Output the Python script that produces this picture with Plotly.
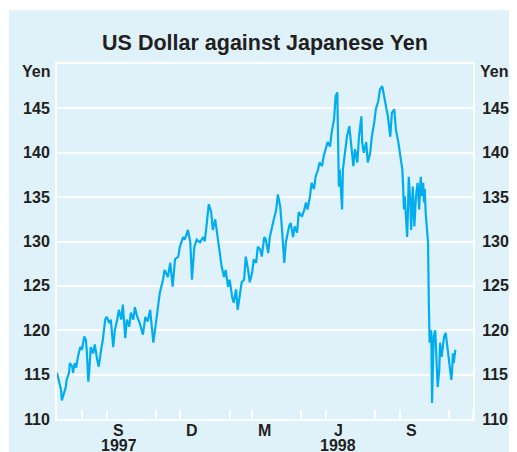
import plotly.graph_objects as go

# daily-ish readings of USD/JPY
dates = [
    "1997-07-01", "1997-07-03", "1997-07-06", "1997-07-07", "1997-07-10", "1997-07-12",
    "1997-07-13", "1997-07-16", "1997-07-17", "1997-07-20", "1997-07-21", "1997-07-23",
    "1997-07-25", "1997-07-27", "1997-07-30", "1997-08-01", "1997-08-04", "1997-08-06",
    "1997-08-07", "1997-08-09", "1997-08-10", "1997-08-12", "1997-08-15", "1997-08-17",
    "1997-08-20", "1997-08-22", "1997-08-25", "1997-08-27", "1997-08-30", "1997-09-01",
    "1997-09-04", "1997-09-06", "1997-09-09", "1997-09-11", "1997-09-14", "1997-09-16",
    "1997-09-19", "1997-09-21", "1997-09-24", "1997-09-26", "1997-09-29", "1997-10-01",
    "1997-10-04", "1997-10-06", "1997-10-09", "1997-10-12", "1997-10-16", "1997-10-19",
    "1997-10-22", "1997-10-25", "1997-10-29", "1997-10-31", "1997-11-03", "1997-11-06",
    "1997-11-10", "1997-11-12", "1997-11-16", "1997-11-19", "1997-11-22", "1997-11-25",
    "1997-11-29", "1997-12-01", "1997-12-05", "1997-12-07", "1997-12-11", "1997-12-14",
    "1997-12-16", "1997-12-19", "1997-12-22", "1997-12-26", "1997-12-30", "1998-01-01",
    "1998-01-04", "1998-01-06", "1998-01-09", "1998-01-11", "1998-01-14", "1998-01-17",
    "1998-01-20", "1998-01-22", "1998-01-25", "1998-01-27", "1998-01-30", "1998-02-01",
    "1998-02-04", "1998-02-06", "1998-02-09", "1998-02-11", "1998-02-14", "1998-02-16",
    "1998-02-19", "1998-02-21", "1998-02-24", "1998-02-26", "1998-03-01", "1998-03-03",
    "1998-03-06", "1998-03-08", "1998-03-11", "1998-03-13", "1998-03-16", "1998-03-18",
    "1998-03-21", "1998-03-23", "1998-03-27", "1998-03-31", "1998-04-02", "1998-04-05",
    "1998-04-07", "1998-04-10", "1998-04-12", "1998-04-16", "1998-04-18", "1998-04-21",
    "1998-04-23", "1998-04-26", "1998-04-28", "1998-05-02", "1998-05-05", "1998-05-07",
    "1998-05-09", "1998-05-12", "1998-05-14", "1998-05-17", "1998-05-19", "1998-05-22",
    "1998-05-24", "1998-05-27", "1998-05-29", "1998-06-01", "1998-06-03", "1998-06-06",
    "1998-06-08", "1998-06-11", "1998-06-13", "1998-06-15", "1998-06-16", "1998-06-17",
    "1998-06-18", "1998-06-21", "1998-06-22", "1998-06-25", "1998-06-27", "1998-06-30",
    "1998-07-02", "1998-07-05", "1998-07-07", "1998-07-10", "1998-07-12", "1998-07-15",
    "1998-07-16", "1998-07-18", "1998-07-21", "1998-07-23", "1998-07-26", "1998-07-28",
    "1998-07-31", "1998-08-02", "1998-08-05", "1998-08-07", "1998-08-10", "1998-08-12",
    "1998-08-15", "1998-08-17", "1998-08-20", "1998-08-22", "1998-08-25", "1998-08-27",
    "1998-08-30", "1998-09-01", "1998-09-04", "1998-09-05", "1998-09-06", "1998-09-07",
    "1998-09-09", "1998-09-10", "1998-09-11", "1998-09-12", "1998-09-14", "1998-09-15",
    "1998-09-16", "1998-09-17", "1998-09-19", "1998-09-20", "1998-09-21", "1998-09-23",
    "1998-09-25", "1998-09-26", "1998-09-27", "1998-09-28", "1998-09-30", "1998-10-01",
    "1998-10-02", "1998-10-03", "1998-10-05", "1998-10-06", "1998-10-07", "1998-10-08",
    "1998-10-10", "1998-10-11", "1998-10-12", "1998-10-13", "1998-10-15", "1998-10-16",
    "1998-10-17", "1998-10-18", "1998-10-20", "1998-10-21", "1998-10-23", "1998-10-26",
    "1998-10-28", "1998-10-30", "1998-10-31", "1998-11-02", "1998-11-04", "1998-11-05",
    "1998-11-06", "1998-11-07", "1998-11-09",
]
yen = [
    115.2, 114.4, 113.3, 112.1, 112.9, 113.6,
    114.4, 115.2, 116.3, 115.9, 115.2, 116.3,
    115.8, 117.0, 118.1, 117.8, 119.3, 118.9,
    117.8, 114.2, 115.2, 118.1, 117.4, 118.4,
    116.7, 115.9, 117.8, 118.9, 121.2, 121.5,
    120.8, 121.2, 118.1, 120.0, 121.2, 122.3,
    121.2, 122.9, 119.1, 121.2, 120.4, 122.0,
    121.2, 122.6, 121.5, 120.8, 119.5, 121.5,
    121.0, 122.3, 118.6, 120.0, 122.0, 124.2,
    125.7, 126.8, 126.0, 127.6, 124.9, 128.0,
    128.3, 129.4, 130.5, 130.2, 131.3, 129.9,
    125.7, 129.4, 130.2, 129.9, 130.5, 130.0,
    132.5, 134.2, 133.3, 131.3, 132.5, 130.5,
    128.3, 127.2, 126.0, 126.8, 124.9, 125.7,
    123.8, 123.1, 124.6, 122.3, 124.2, 125.4,
    125.7, 128.3, 126.8, 125.4, 126.5, 128.0,
    127.6, 129.4, 129.1, 128.3, 130.5, 130.2,
    128.7, 130.5, 132.1, 133.6, 135.3, 133.9,
    131.6, 127.6, 129.9, 131.7, 132.1, 130.5,
    131.7, 131.0, 133.3, 132.8, 133.6, 134.4,
    133.6, 135.1, 136.6, 135.9, 137.3, 138.1,
    138.9, 138.5, 139.6, 140.4, 141.2, 140.7,
    142.3, 143.8, 146.4, 146.8, 141.8, 136.2,
    138.1, 133.6, 138.1, 140.0, 141.8, 143.0,
    141.2, 138.5, 140.4, 138.9, 141.8, 144.1,
    141.2, 140.0, 141.2, 138.9, 140.0, 141.8,
    143.4, 144.9, 145.8, 147.1, 147.5, 146.4,
    144.9, 144.1, 141.8, 144.5, 144.9, 142.6,
    141.2, 140.0, 138.1, 136.2, 133.6, 135.1,
    132.5, 130.5, 133.3, 137.3, 134.4, 131.3,
    133.6, 136.2, 131.7, 133.6, 135.1, 136.6,
    133.6, 135.9, 137.3, 135.1, 136.6, 134.4,
    135.9, 133.3, 130.2, 129.9, 123.1, 118.6,
    120.0, 111.8, 115.5, 119.3, 120.0, 117.4,
    115.5, 113.6, 115.5, 118.6, 117.0, 119.3,
    119.7, 118.1, 117.0, 115.9, 114.4, 115.5,
    117.4, 116.3, 117.8,
]

y_ticks = [110, 115, 120, 125, 130, 135, 140, 145]
x_label_dates = ["1997-09-16", "1997-12-16", "1998-03-16", "1998-06-16", "1998-09-16"]
x_label_text = ["S", "D", "M", "J", "S"]
year_dates = ["1997-09-16", "1998-06-16"]
year_text = ["1997", "1998"]

BG = "#dff2fa"
INK = "#231f20"
tickfont = dict(family="Liberation Sans, Arial", size=16, color=INK, weight="bold")

# page body adds an 8px offset, so the figure is drawn 8px smaller than the window
W, H = 509, 444
L, R, T, B = 49, 44, 56, 33
pw, ph = W - L - R, H - T - B

fig = go.Figure()
fig.add_trace(go.Scatter(x=dates, y=yen, mode="lines",
                         line=dict(color="#00aeef", width=2.2), showlegend=False))
# invisible copy so the right-hand axis gets drawn
fig.add_trace(go.Scatter(x=dates, y=yen, mode="lines", yaxis="y2",
                         line=dict(width=0), opacity=0, hoverinfo="skip",
                         showlegend=False))

fig.update_layout(
    width=W, height=H,
    margin=dict(l=L, r=R, t=T, b=B),
    paper_bgcolor="white", plot_bgcolor=BG,
    title=dict(text="US Dollar against Japanese Yen", x=0.5, xref="paper",
               y=1 - 34 / H, yanchor="middle",
               font=dict(family="Liberation Sans, Arial", size=21.5, color=INK,
                         weight="bold")),
    xaxis=dict(type="date", range=["1997-07-01", "1998-12-01"], automargin=False,
               showticklabels=False, ticks="", showgrid=False, zeroline=False,
               showline=True, linecolor="white", linewidth=2, mirror=True,
               minor=dict(ticks="inside", dtick="M1", tick0="1997-08-01",
                          ticklen=9, tickwidth=2, tickcolor="white", showgrid=False)),
    yaxis=dict(range=[110, 150], tickvals=y_ticks, tickfont=tickfont, automargin=False,
               gridcolor="white", gridwidth=2, zeroline=False, ticklabelstandoff=2,
               showline=True, linecolor="white", linewidth=2, ticks=""),
    yaxis2=dict(range=[110, 150], tickvals=y_ticks, tickfont=tickfont, automargin=False,
                overlaying="y", side="right", showgrid=False, zeroline=False,
                ticklabelstandoff=4,
                showline=True, linecolor="white", linewidth=2, ticks=""),
)

# light blue panel behind everything
fig.add_shape(type="rect", xref="paper", yref="paper",
              x0=(1 - L) / pw, x1=(506 - L) / pw, y0=-(B + 5) / ph, y1=(ph + T - 2) / ph,
              fillcolor=BG, line_width=0, layer="below")

for xp in [-21 / pw, 1 + 21 / pw]:
    fig.add_annotation(text="Yen", xref="paper", yref="paper", xanchor="center",
                       x=xp, y=1 - 8 / ph, yanchor="middle", showarrow=False,
                       font=tickfont)

# month letters and years under the axis
for d, t in zip(x_label_dates, x_label_text):
    fig.add_annotation(text=t, x=d, xref="x", yref="paper", y=-11 / ph,
                       yanchor="middle", xanchor="center", showarrow=False,
                       height=14, font=tickfont)
for d, t in zip(year_dates, year_text):
    fig.add_annotation(text=t, x=d, xref="x", yref="paper", y=-26 / ph,
                       yanchor="middle", xanchor="center", showarrow=False,
                       height=14, font=tickfont)

fig.write_html("out.html")
